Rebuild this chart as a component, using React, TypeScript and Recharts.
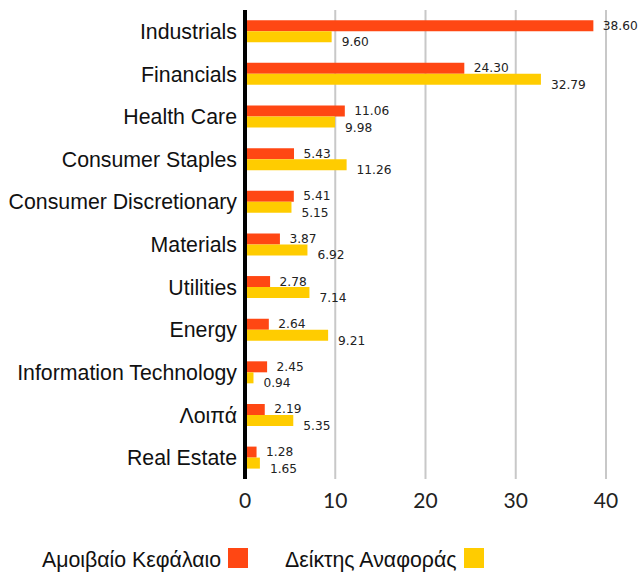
import { BarChart, Bar, XAxis, YAxis, CartesianGrid, LabelList } from 'recharts';

const categories = [
    'Industrials',
    'Financials',
    'Health Care',
    'Consumer Staples',
    'Consumer Discretionary',
    'Materials',
    'Utilities',
    'Energy',
    'Information Technology',
    'Λοιπά',
    'Real Estate',
];

const fundValues = [38.6, 24.3, 11.06, 5.43, 5.41, 3.87, 2.78, 2.64, 2.45, 2.19, 1.28];
const indexValues = [9.6, 32.79, 9.98, 11.26, 5.15, 6.92, 7.14, 9.21, 0.94, 5.35, 1.65];

const xTicks = [0, 10, 20, 30, 40];

const fundName = 'Αμοιβαίο Κεφάλαιο';
const indexName = 'Δείκτης Αναφοράς';

const ORANGE = '#FF4713';
const YELLOW = '#FFCC00';
const SANS = 'Arial, "Liberation Sans", sans-serif';

const data = categories.map((c, i) => ({ name: c, fund: fundValues[i], index: indexValues[i] }));

// label to the right of each bar, shifted up or down a little
const makeLabel = (dx: number, dy: number) => (props: any) => {
    const { x, y, width, height, value } = props;
    return (
        <text
            x={Number(x) + Number(width) + dx}
            y={Number(y) + Number(height) / 2 + dy}
            fill="#222"
            fontSize={12.2}
            fontFamily="DejaVu Sans"
            dominantBaseline="central"
        >
            {Number(value).toFixed(2)}
        </text>
    );
};

const LegendItem = ({ label, color, left }: { label: string; color: string; left: number }) => (
    <div style={{ position: 'absolute', left, top: 548, display: 'flex', alignItems: 'center', height: 20 }}>
        <span style={{ fontFamily: SANS, fontSize: 21.3, lineHeight: '20px', color: '#111', marginRight: 7, position: 'relative', top: 2 }}>{label}</span>
        <span style={{ display: 'inline-block', width: 20, height: 20, backgroundColor: color }}></span>
    </div>
);

export default function App() {
    return (
        <div style={{ position: 'absolute', left: 0, top: 0, width: 640, height: 577, background: '#fff' }}>
            <BarChart
                width={640}
                height={520}
                data={data}
                layout="vertical"
                margin={{ top: 10, right: 34, left: 0, bottom: 0 }}
                barCategoryGap="24%"
                barGap={0}
            >
                <CartesianGrid horizontal={false} stroke="#c8c8c8" strokeWidth={2} />
                <XAxis
                    type="number"
                    domain={[0, 40]}
                    ticks={xTicks}
                    axisLine={false}
                    tickLine={false}
                    height={41}
                    tickMargin={8}
                    tick={{ fontSize: 21, fill: '#222', fontFamily: 'Lato' }}
                />
                <YAxis
                    type="category"
                    dataKey="name"
                    width={245}
                    axisLine={{ stroke: '#000', strokeWidth: 4 }}
                    tickLine={false}
                    tick={{ fontSize: 21.3, fill: '#111', fontFamily: SANS }}
                />
                <Bar dataKey="fund" name={fundName} fill={ORANGE} isAnimationActive={false}>
                    <LabelList dataKey="fund" content={makeLabel(9.5, 0)} />
                </Bar>
                <Bar dataKey="index" name={indexName} fill={YELLOW} isAnimationActive={false}>
                    <LabelList dataKey="index" content={makeLabel(10, 5.5)} />
                </Bar>
            </BarChart>
            <LegendItem label={fundName} color={ORANGE} left={42} />
            <LegendItem label={indexName} color={YELLOW} left={285} />
        </div>
    );
}
